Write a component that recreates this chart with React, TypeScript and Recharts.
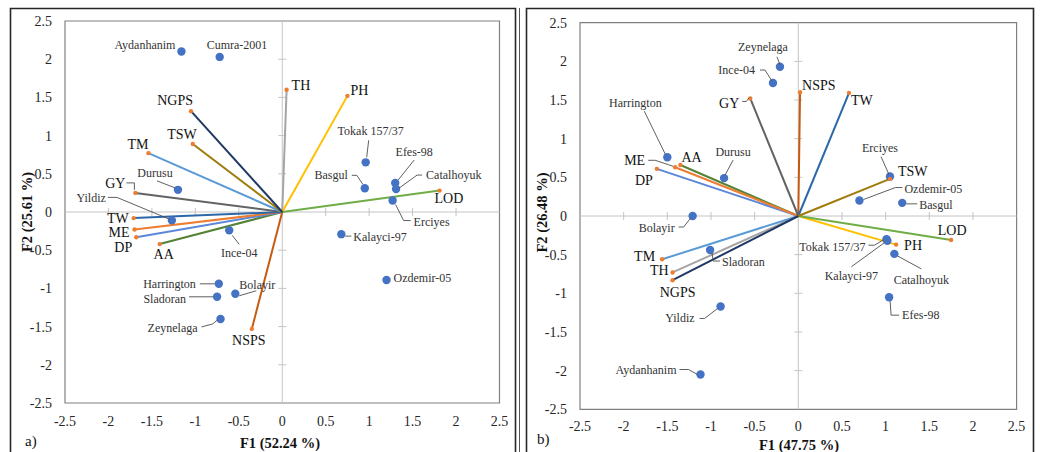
import React from "react";
import { ScatterChart, Scatter, XAxis, YAxis, ReferenceLine, ReferenceArea } from "recharts";

const FONT = "'Liberation Serif', 'Times New Roman', Times, 'DejaVu Serif', serif";

const TICKS = [-2.5, -2, -1.5, -1, -0.5, 0, 0.5, 1, 1.5, 2, 2.5];

// variables (vectors)
const VARIABLES = ["TH", "PH", "LOD", "NSPS", "AA", "DP", "ME", "TW", "GY", "TM", "TSW", "NGPS"];
const VAR_COLORS = [
  "#a5a5a5", "#ffc000", "#70ad47", "#c55a11", "#548235", "#5b87da",
  "#ed7d31", "#2c67a8", "#636363", "#5b9bd5", "#9e7b0a", "#203864",
];
const LEFT_VAR_F1 = [0.05, 0.75, 1.81, -0.35, -1.41, -1.68, -1.7, -1.71, -1.69, -1.54, -1.03, -1.05];
const LEFT_VAR_F2 = [1.6, 1.52, 0.28, -1.53, -0.42, -0.33, -0.23, -0.08, 0.25, 0.77, 0.89, 1.32];
const RIGHT_VAR_F1 = [-1.44, 1.12, 1.75, 0.02, -1.35, -1.62, -1.41, 0.58, -0.55, -1.56, 1.05, -1.44];
const RIGHT_VAR_F2 = [-0.73, -0.37, -0.31, 1.6, 0.66, 0.61, 0.63, 1.59, 1.52, -0.56, 0.48, -0.83];

// genotypes (observations)
const LEFT_GENOTYPES = [
  "Aydanhanim", "Cumra-2001", "Durusu", "Yildiz", "Ince-04", "Harrington", "Bolayir", "Sladoran",
  "Zeynelaga", "Tokak 157/37", "Basgul", "Efes-98", "Catalhoyuk", "Erciyes", "Kalayci-97", "Ozdemir-05",
];
const LEFT_OBS_F1 = [-1.16, -0.72, -1.2, -1.27, -0.61, -0.73, -0.54, -0.75, -0.71, 0.96, 0.95, 1.3, 1.31, 1.27, 0.68, 1.2];
const LEFT_OBS_F2 = [2.1, 2.03, 0.29, -0.11, -0.24, -0.94, -1.07, -1.11, -1.4, 0.65, 0.31, 0.38, 0.3, 0.15, -0.29, -0.89];

const RIGHT_GENOTYPES = [
  "Aydanhanim", "Durusu", "Yildiz", "Ince-04", "Harrington", "Bolayir", "Sladoran", "Zeynelaga",
  "Tokak 157/37", "Basgul", "Efes-98", "Catalhoyuk", "Erciyes", "Kalayci-97", "Ozdemir-05",
];
const RIGHT_OBS_F1 = [-1.12, -0.85, -0.89, -0.29, -1.5, -1.21, -1.01, -0.21, 1.01, 1.19, 1.04, 1.1, 1.05, 1.02, 0.7];
const RIGHT_OBS_F2 = [-2.05, 0.49, -1.17, 1.72, 0.76, 0.0, -0.44, 1.93, -0.3, 0.17, -1.05, -0.49, 0.51, -0.32, 0.2];

// label placement: [dx, dy, anchor, leader points relative to the mark]
type Place = [number, number, string, number[][]?];

const LEFT_VAR_TAGS: Record<string, Place> = {
  TH: [5, -4, "start"],
  PH: [3, -5, "start"],
  LOD: [-5, 8, "start"],
  NSPS: [-3, 12, "middle"],
  AA: [4, 10, "middle"],
  DP: [-4, 10, "end"],
  ME: [-5, 3, "end"],
  TW: [-5, 0, "end"],
  GY: [-10, -9, "end", [[-9, -10], [-1, -10], [-1, -3]]],
  TM: [0, -9, "end"],
  TSW: [4, -10, "end"],
  NGPS: [2, -11, "end"],
};

const RIGHT_VAR_TAGS: Record<string, Place> = {
  TH: [-4, -2, "end"],
  PH: [8, 1, "start"],
  LOD: [1, -9, "middle"],
  NSPS: [2, -7, "start"],
  AA: [1, -7, "start"],
  DP: [-4, 12, "end"],
  ME: [-30, -7, "end", [[-27, -7], [-20, -7], [-2, -1]]],
  TW: [2, 7, "start"],
  GY: [-11, 5, "end", [[-8, 3], [-4, 3], [-1, -1]]],
  TM: [-7, -3, "end"],
  TSW: [8, -7, "start"],
  NGPS: [5, 12, "middle"],
};

const LEFT_OBS_TAGS: Record<string, Place> = {
  Aydanhanim: [-6, -7, "end"],
  "Cumra-2001": [-13, -12, "start"],
  Durusu: [-23, -17, "middle", [[-21, -9], [-3, -2]]],
  Yildiz: [-66, -22, "end", [[-64, -23], [-55, -23], [-2, -1]]],
  "Ince-04": [10, 23, "middle", [[3, 5], [10, 14]]],
  Harrington: [-23, 0, "end", [[-19, 0], [-4, 0]]],
  Bolayir: [4, -9, "start", [[4, 2], [21, -3]]],
  Sladoran: [-31, 2, "end", [[-28, 0], [-4, 0]]],
  Zeynelaga: [-23, 9, "end", [[-19, 8], [-8, 5], [-3, 1]]],
  "Tokak 157/37": [5, -31, "middle", [[3, -22], [1, -5]]],
  Basgul: [-17, -13, "end", [[-13, -13], [-8, -13], [-2, -4]]],
  "Efes-98": [19, -31, "middle", [[19, -23], [3, -3]]],
  Catalhoyuk: [30, -14, "start", [[26, -14], [21, -14], [3, -1]]],
  Erciyes: [21, 21, "start", [[3, 4], [11, 20], [18, 20]]],
  "Kalayci-97": [12, 3, "start", [[4, 2], [10, 2]]],
  "Ozdemir-05": [7, -2, "start"],
};

const RIGHT_OBS_TAGS: Record<string, Place> = {
  Zeynelaga: [-17, -20, "middle", [[-3, -10], [0, -2]]],
  "Ince-04": [-18, -13, "end", [[-13, -13], [-8, -13], [-1, -2]]],
  Harrington: [-32, -54, "middle", [[-23, -46], [-2, -3]]],
  Durusu: [9, -26, "middle", [[9, -18], [1, -3]]],
  Bolayir: [-18, 12, "end", [[-14, 11], [-9, 11], [-2, 2]]],
  Sladoran: [12, 12, "start", [[2, 3], [3, 11], [10, 11]]],
  Yildiz: [-26, 12, "end", [[-21, 12], [-16, 12], [-3, 2]]],
  Aydanhanim: [-24, -5, "end", [[-21, -5], [-12, -5], [-3, 0]]],
  Erciyes: [-10, -29, "middle", [[-9, -20], [-1, -2]]],
  "Ozdemir-05": [45, -12, "start", [[4, -1], [36, -13], [43, -13]]],
  Basgul: [17, 2, "start", [[4, 1], [15, 1]]],
  "Tokak 157/37": [-21, 8, "end", [[-18, 6], [-12, 6], [-2, 0]]],
  "Kalayci-97": [-36, 35, "middle", [[-36, 26], [-3, 2]]],
  Catalhoyuk: [27, 26, "middle", [[3, 2], [27, 15]]],
  "Efes-98": [13, 18, "start", [[1, 4], [2, 18], [10, 18]]],
};

const AXIS_TICKS = TICKS.filter((t) => t !== 0 && Math.abs(t) < 2.5);
const axisTickData = [
  ...AXIS_TICKS.map((t) => ({ x: t, y: 0, dir: "v" })),
  ...AXIS_TICKS.map((t) => ({ x: 0, y: t, dir: "h" })),
];

function Tag({ cx, cy, text, place, size, color }: any) {
  if (!place) return null;
  const [dx, dy, anchor, leader] = place;
  return (
    <g>
      {leader && (
        <polyline
          points={leader.map(([a, b]: number[]) => `${cx + a},${cy + b}`).join(" ")}
          fill="none"
          stroke="#4d4d4d"
          strokeWidth={0.9}
        />
      )}
      <text
        x={cx + dx}
        y={cy + dy}
        textAnchor={anchor}
        dominantBaseline="central"
        style={{ fontFamily: FONT, fontSize: size }}
        fill={color}
      >
        {text}
      </text>
    </g>
  );
}

function Panel({ varF1, varF2, names, obsF1, obsF2, varTags, obsTags, margin, yWidth, xTickMargin }: any) {
  const ends = VARIABLES.map((v, i) => ({ x: varF1[i], y: varF2[i], name: v }));
  const obs = names.map((n: string, i: number) => ({ x: obsF1[i], y: obsF2[i], name: n }));
  const tickStyle = { fill: "#262626", fontSize: 14, fontFamily: FONT, style: { fontFamily: FONT } };

  return (
    <ScatterChart width={520} height={452} margin={margin} style={{ fontFamily: FONT }}>
      <XAxis
        type="number"
        dataKey="x"
        domain={[-2.5, 2.5]}
        ticks={TICKS}
        interval={0}
        allowDataOverflow
        axisLine={false}
        tickLine={false}
        tickSize={0}
        tickMargin={xTickMargin}
        height={30}
        tick={tickStyle}
      />
      <YAxis
        type="number"
        dataKey="y"
        domain={[-2.5, 2.5]}
        ticks={TICKS}
        interval={0}
        allowDataOverflow
        axisLine={false}
        tickLine={false}
        tickSize={0}
        tickMargin={13}
        width={yWidth}
        tick={tickStyle}
      />
      <ReferenceArea x1={-2.5} x2={2.5} y1={-2.5} y2={2.5} fill="none" stroke="#808080" strokeWidth={1.2} />
      <ReferenceLine x={0} stroke="#c4c4c4" strokeWidth={1} />
      <ReferenceLine y={0} stroke="#c4c4c4" strokeWidth={1} />
      <Scatter
        data={axisTickData}
        isAnimationActive={false}
        shape={(p: any) =>
          p.payload.dir === "v" ? (
            <line x1={p.cx} x2={p.cx} y1={p.cy - 4} y2={p.cy + 4} stroke="#c4c4c4" strokeWidth={1} />
          ) : (
            <line x1={p.cx - 4} x2={p.cx + 4} y1={p.cy} y2={p.cy} stroke="#c4c4c4" strokeWidth={1} />
          )
        }
      />
      {VARIABLES.map((v, i) => (
        <Scatter
          key={v}
          data={[{ x: 0, y: 0 }, { x: varF1[i], y: varF2[i] }]}
          line={{ stroke: VAR_COLORS[i], strokeWidth: 2 }}
          isAnimationActive={false}
          shape={() => <g />}
        />
      ))}
      <Scatter
        data={obs}
        isAnimationActive={false}
        shape={(p: any) => (
          <g>
            <circle cx={p.cx} cy={p.cy} r={4.2} fill="#4472c4" />
            <Tag cx={p.cx} cy={p.cy} text={p.payload.name} place={obsTags[p.payload.name]} size={12} color="#333333" />
          </g>
        )}
      />
      <Scatter
        data={ends}
        isAnimationActive={false}
        shape={(p: any) => (
          <g>
            <circle cx={p.cx} cy={p.cy} r={2.2} fill="#ed7d31" />
            <Tag cx={p.cx} cy={p.cy} text={p.payload.name} place={varTags[p.payload.name]} size={14} color="#111111" />
          </g>
        )}
      />
    </ScatterChart>
  );
}

export default function App() {
  return (
    <div
      style={{
        position: "absolute",
        left: 0,
        top: 0,
        width: 1040,
        height: 452,
        overflow: "hidden",
        background: "#fff",
        fontFamily: FONT,
      }}
    >
      <div style={{ position: "absolute", left: 0, top: 0 }}>
        <Panel
          varF1={LEFT_VAR_F1}
          varF2={LEFT_VAR_F2}
          names={LEFT_GENOTYPES}
          obsF1={LEFT_OBS_F1}
          obsF2={LEFT_OBS_F2}
          varTags={LEFT_VAR_TAGS}
          obsTags={LEFT_OBS_TAGS}
          margin={{ top: 21, right: 20.5, bottom: 19, left: 0 }}
          yWidth={65}
          xTickMargin={13.4}
        />
      </div>
      <div style={{ position: "absolute", left: 520, top: 0 }}>
        <Panel
          varF1={RIGHT_VAR_F1}
          varF2={RIGHT_VAR_F2}
          names={RIGHT_GENOTYPES}
          obsF1={RIGHT_OBS_F1}
          obsF2={RIGHT_OBS_F2}
          varTags={RIGHT_VAR_TAGS}
          obsTags={RIGHT_OBS_TAGS}
          margin={{ top: 22.7, right: 23.4, bottom: 12.7, left: 0 }}
          yWidth={60}
          xTickMargin={12.1}
        />
      </div>
      <svg
        width={1040}
        height={452}
        style={{ position: "absolute", left: 0, top: 0, pointerEvents: "none", fontFamily: FONT }}
      >
        <path d="M10.5,452 V8.5 H515.5 V452" fill="none" stroke="#262626" strokeWidth={1.6} />
        <line x1={519.5} x2={519.5} y1={8} y2={452} stroke="#555" strokeWidth={1} />
        <path d="M526.5,452 V8.5 H1033.5 V452" fill="none" stroke="#262626" strokeWidth={1.6} />
        <g style={{ fontFamily: FONT, fontWeight: "bold", fontSize: 14.5 }} fill="#111">
          <text x={280} y={443} textAnchor="middle" dominantBaseline="central">F1 (52.24 %)</text>
          <text x={799} y={445} textAnchor="middle" dominantBaseline="central">F1 (47.75 %)</text>
          <text
            x={26.7}
            y={212}
            textAnchor="middle"
            dominantBaseline="central"
            transform="rotate(-90 26.7 212)"
          >
            F2 (25.61 %)
          </text>
          <text
            x={541.7}
            y={212.5}
            textAnchor="middle"
            dominantBaseline="central"
            transform="rotate(-90 541.7 212.5)"
          >
            F2 (26.48 %)
          </text>
        </g>
        <g style={{ fontFamily: FONT, fontSize: 15 }} fill="#111">
          <text x={25} y={441} dominantBaseline="central">a)</text>
          <text x={537} y={439} dominantBaseline="central">b)</text>
        </g>
      </svg>
    </div>
  );
}
